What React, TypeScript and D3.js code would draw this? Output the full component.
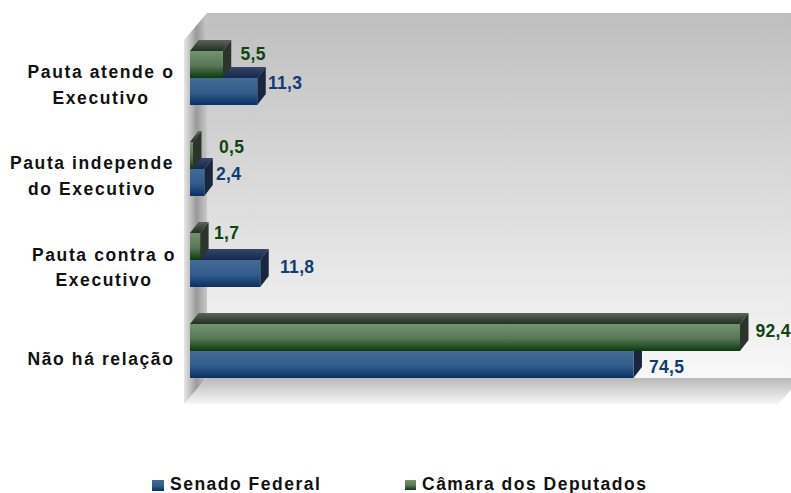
import React from "react";
import * as d3 from "d3";

const categories = ["Pauta atende o|Executivo", "Pauta independe|do Executivo", "Pauta contra o|Executivo", "Não há relação"];
const senado = [11.3, 2.4, 11.8, 74.5];
const camara = [5.5, 0.5, 1.7, 92.4];
const seriesNames = ["Câmara dos Deputados", "Senado Federal"];

const labelNudges = [
  [[9.3, -4.5], [2.2, -2.5]],
  [[17.5, -2.5], [3.2, -2.5]],
  [[5.4, -7.5], [11.3, -0.5]],
  [[7, -0.5], [7, 8.5]],
];
const categoryCentres = [101, 92, 104, 101];
const categoryDy = [0, 0, 0.5, 14];

const FONT = "'Liberation Sans', Arial, sans-serif";
const W = 791, H = 493;
const DX = 8.5, DY = 11;

const x = d3.scaleLinear().domain([0, 92.4]).range([190, 740]);
const y0 = d3.scaleBand<number>().domain([0, 1, 2, 3]).range([32.5, 396.5]).paddingInner(37 / 91).paddingOuter(37 / 182);
const y1 = d3.scaleBand<number>().domain([0, 1]).range([0, y0.bandwidth()]);

const pal = [
  { top: "#74946f", mid: "#567656", bot: "#0b3a0b", lidA: "#5a6558", lidB: "#232f22", side: "#2b352b", text: "#0f4410" },
  { top: "#436b96", mid: "#315c8a", bot: "#0a2f63", lidA: "#35476a", lidB: "#14284c", side: "#18263f", text: "#0d3d73" },
];

function Bar({ v, cat, s }: { v: number; cat: number; s: number }) {
  const x0 = x(0), x1 = x(v);
  const top = (y0(cat) as number) + (y1(s) as number);
  const h = y1.bandwidth();
  const lid = `${x0},${top} ${x0 + DX},${top - DY} ${x1 + DX},${top - DY} ${x1},${top}`;
  const side = `${x1},${top} ${x1 + DX},${top - DY} ${x1 + DX},${top + h - DY} ${x1},${top + h}`;
  return (
    <g>
      <polygon points={lid} fill={`url(#lid${s})`} />
      <polygon points={side} fill={`url(#side${s})`} />
      <rect x={x0} y={top} width={x1 - x0} height={h} fill={`url(#front${s})`} />
    </g>
  );
}

export default function App() {
  const rows = [camara, senado];
  return (
    <svg width={W} height={H} style={{ position: "absolute", left: 0, top: 0 }} fontFamily={FONT} fontWeight="bold">
      <defs>
        <linearGradient id="wall" x1="0" y1="0" x2="0" y2="1">
          <stop offset="0" stopColor="#bfbfbf" />
          <stop offset="1" stopColor="#f8f8f8" />
        </linearGradient>
        <linearGradient id="floor" x1="0" y1="0" x2="0" y2="1">
          <stop offset="0" stopColor="#b9b9b9" />
          <stop offset="1" stopColor="#f6f6f6" />
        </linearGradient>
        <linearGradient id="lwall" x1="0" y1="0" x2="1" y2="0">
          <stop offset="0" stopColor="#e6e6e6" />
          <stop offset="0.55" stopColor="#9a9a9a" />
          <stop offset="1" stopColor="#c8c8c8" />
        </linearGradient>
        {pal.map((p, i) => (
          <React.Fragment key={i}>
            <linearGradient id={`front${i}`} x1="0" y1="0" x2="0" y2="1">
              <stop offset="0" stopColor={p.top} />
              <stop offset="0.55" stopColor={p.mid} />
              <stop offset="1" stopColor={p.bot} />
            </linearGradient>
            <linearGradient id={`lid${i}`} x1="0" y1="0" x2="0" y2="1">
              <stop offset="0" stopColor={p.lidA} />
              <stop offset="1" stopColor={p.lidB} />
            </linearGradient>
            <linearGradient id={`side${i}`} x1="0" y1="0" x2="0" y2="1">
              <stop offset="0" stopColor={p.side} />
              <stop offset="1" stopColor={p.side} />
            </linearGradient>
          </React.Fragment>
        ))}
      </defs>

      <rect x={207} y={13} width={584} height={365} fill="url(#wall)" />
      <polygon points="184,40 207,13 207,378 184,404" fill="url(#lwall)" />
      <polygon points="184,404 207,378 791,378 791,390 778,404" fill="url(#floor)" />

      {categories.map((_, c) => (
        <g key={c}>
          <Bar v={senado[c]} cat={c} s={1} />
          <Bar v={camara[c]} cat={c} s={0} />
        </g>
      ))}

      {categories.map((_, c) =>
        rows.map((r, s) => (
          <text
            key={`${c}-${s}`}
            x={x(r[c]) + DX + labelNudges[c][s][0]}
            y={(y0(c) as number) + (y1(s) as number) + y1.bandwidth() / 2 + labelNudges[c][s][1]}
            fontSize={17.5}
            letterSpacing={0.3}
            fill={pal[s].text}
          >
            {String(r[c]).replace(".", ",")}
          </text>
        ))
      )}

      {categories.map((label, c) => {
        const mid = (y0(c) as number) + y0.bandwidth() / 2;
        return label.split("|").map((l, i) => (
          <text
            key={`${c}-${i}`}
            x={categoryCentres[c]}
            y={mid + categoryDy[c] + i * 25.5}
            fontSize={17.5}
            letterSpacing={1.6}
            fill="#111"
            textAnchor="middle"
          >
            {l}
          </text>
        ));
      })}

      <rect x={152} y={480} width={12} height={11} fill="url(#front1)" />
      <text x={170} y={490} fontSize={17.5} letterSpacing={1.5} fill="#111">{seriesNames[1]}</text>
      <rect x={405} y={480} width={11} height={10} fill="url(#front0)" />
      <text x={422} y={490} fontSize={17.5} letterSpacing={1.5} fill="#111">{seriesNames[0]}</text>
    </svg>
  );
}
